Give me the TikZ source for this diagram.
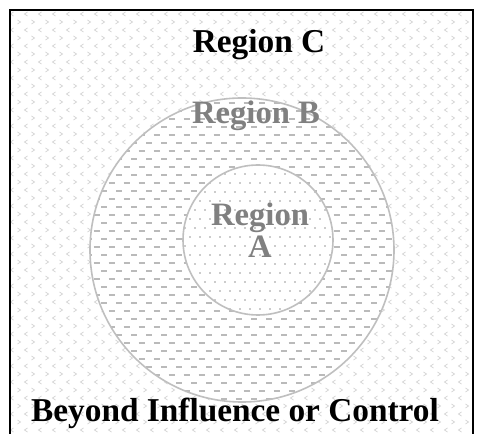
\documentclass[tikz,border=0pt]{standalone}
\usepackage{fontspec}
\setmainfont{Liberation Serif}
\begin{document}
\begin{tikzpicture}[x=0.75pt,y=-0.75pt,
  ring/.style={draw=black!25,line width=1.2pt},
  chev/.style={draw=black!16,line width=0.6pt},
  dashmark/.style={draw=black!27,line width=1.1pt},
  darklabel/.style={font=\bfseries\fontsize{25}{24}\selectfont,text=black},
  greylabel/.style={font=\bfseries\fontsize{24.5}{24}\selectfont,text=black!50,align=center}]
\useasboundingbox (0,0) rectangle (485,434);
\fill[white] (0,0) rectangle (485,434);

% Region C texture: small chevrons
\begin{scope}
\clip (10,10) rectangle (473,434);
\foreach \r in {0,...,54}{
  \pgfmathsetmacro{\yy}{14+8*\r}
  \pgfmathsetmacro{\off}{mod(\r,2)*7}
  \foreach \c in {0,...,33}{
    \pgfmathsetmacro{\xx}{12+14*\c+\off}
    \ifodd\r
      \draw[chev] (\xx-1.5,\yy-2) -- (\xx+1.5,\yy) -- (\xx-1.5,\yy+2);
    \else
      \draw[chev] (\xx+1.5,\yy-2) -- (\xx-1.5,\yy) -- (\xx+1.5,\yy+2);
    \fi
  }
}
\end{scope}

% Region B: outer disc with dashed texture
\coordinate (cB) at (242,250);
\coordinate (cA) at (258,240);
\fill[white] (cB) circle[radius=152];
\begin{scope}
\clip (cB) circle[radius=152];
\foreach \r in {0,...,40}{
  \pgfmathsetmacro{\yy}{95+8*\r}
  \pgfmathsetmacro{\off}{mod(\r,2)*7.5}
  \foreach \c in {0,...,22}{
    \pgfmathsetmacro{\xx}{86+15*\c+\off}
    \draw[dashmark] (\xx,\yy) -- (\xx+6,\yy);
  }
}
\end{scope}

% Region A: inner disc with dotted texture
\fill[white] (cA) circle[radius=75];
\begin{scope}
\clip (cA) circle[radius=75];
\foreach \r in {0,...,18}{
  \pgfmathsetmacro{\yy}{165+9*\r}
  \pgfmathsetmacro{\off}{mod(\r,2)*5}
  \foreach \c in {0,...,16}{
    \pgfmathsetmacro{\xx}{180+10*\c+\off}
    \fill[black!40] (\xx,\yy) circle[radius=0.9];
  }
}
\end{scope}

\draw[ring] (cB) circle[radius=152];
\draw[ring] (cA) circle[radius=75];

% frame
\draw[line width=1.3pt] (10,440) -- (10,10) -- (473,10) -- (473,440);

\node[darklabel] (rc) at (259,45) {Region C};
\node[greylabel] (rb) at (256,116) {Region B};
\node[greylabel] (ra) at (260,230) {Region\\A};
\node[darklabel] (bi) at (235,413) {Beyond Influence or Control};
\end{tikzpicture}
\end{document}
